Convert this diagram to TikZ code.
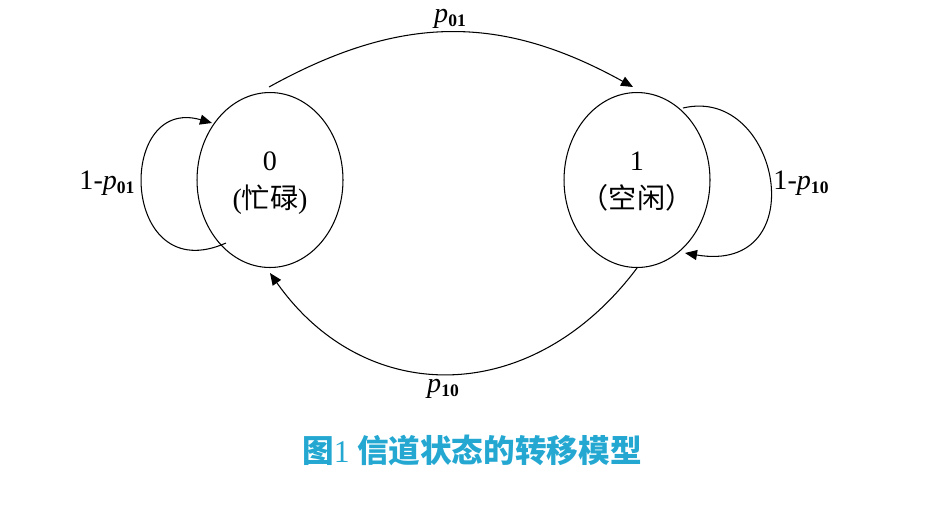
\documentclass[tikz,border=0pt]{standalone}
\usepackage{fontspec}
\setmainfont{Liberation Serif}
\newfontfamily\cjk{Noto Sans CJK SC}
\usetikzlibrary{arrows.meta,shapes.geometric,calc}
\definecolor{capcyan}{RGB}{36,168,210}
\newcommand\probsub[1]{\textit{p}\raisebox{-2.3pt}{\fontsize{10}{12}\selectfont\bfseries #1}}
\begin{document}
\begin{tikzpicture}[x=0.02cm,y=-0.02cm,
  state/.style={draw,ellipse,line width=0.6pt,minimum width=2.92cm,minimum height=3.5cm,inner sep=0pt},
  conn/.style={line width=0.6pt,-{Triangle[length=2.4mm,width=2mm]}},
  num/.style={font=\fontsize{16}{18}\selectfont,inner sep=0pt},
  cjklbl/.style={font=\fontsize{16}{18}\selectfont,inner sep=0pt},
  lbl/.style={font=\fontsize{16}{18}\selectfont,inner sep=1.5pt},
  caption/.style={font=\cjk\bfseries\fontsize{18}{22}\selectfont,text=capcyan}]
\useasboundingbox (0,0) rectangle (925,505);

\node[state] (s0) at (270,180) {};
\node[state] (s1) at (637,180) {};

\node[num] (t0) at ($(s0.center)+(0,-19)$) {0};
\node[cjklbl] (c0) at ($(s0.center)+(0,20)$) {({\cjk\addfontfeature{FakeBold=-0.2}忙碌})};
\node[num] (t1) at ($(s1.center)+(0,-19)$) {1};
\node[cjklbl] (c1) at ($(s1.center)+(0,18)$) {{\cjk （空闲）}};

% endpoints
\coordinate (a0) at ($(s0.north)+(-1,-5)$);
\coordinate (a1) at ($(s1.north)+(-4,-5)$);
\coordinate (b1) at (s1.south);
\coordinate (b0) at ($(s0.south)+(0,5)$);
\coordinate (l0a) at ($(s0.center)+(-44,63)$);
\coordinate (l0b) at ($(s0.center)+(-58,-57)$);
\coordinate (r1a) at ($(s1.center)+(46,-72)$);
\coordinate (r1b) at ($(s1.center)+(48,73)$);

\draw[conn] (a0) .. controls ($(a0)+(132,-73)$) and ($(a1)+(-132,-73)$) .. (a1);
\draw[conn] (b1) .. controls ($(b1)+(-105,140)$) and ($(b0)+(95,135)$) .. (b0);
\draw[conn] (l0a) .. controls ($(l0a)+(-106,47)$) and ($(l0b)+(-97,-28)$) .. (l0b);
\draw[conn] (r1a) .. controls ($(r1a)+(97,-23)$) and ($(r1b)+(130,22)$) .. (r1b);

\node[lbl,fill=white] (p01) at (450,19) {\probsub{01}};
\node[lbl] (p10) at (443,389) {\probsub{10}};
\node[lbl] (q01) at (107,183) {1-\probsub{01}};
\node[lbl] (q10) at (801,183) {1-\probsub{10}};

\node[caption] (cap) at (472,450) {图{\rmfamily\mdseries 1} 信道状态的转移模型};
\end{tikzpicture}
\end{document}
